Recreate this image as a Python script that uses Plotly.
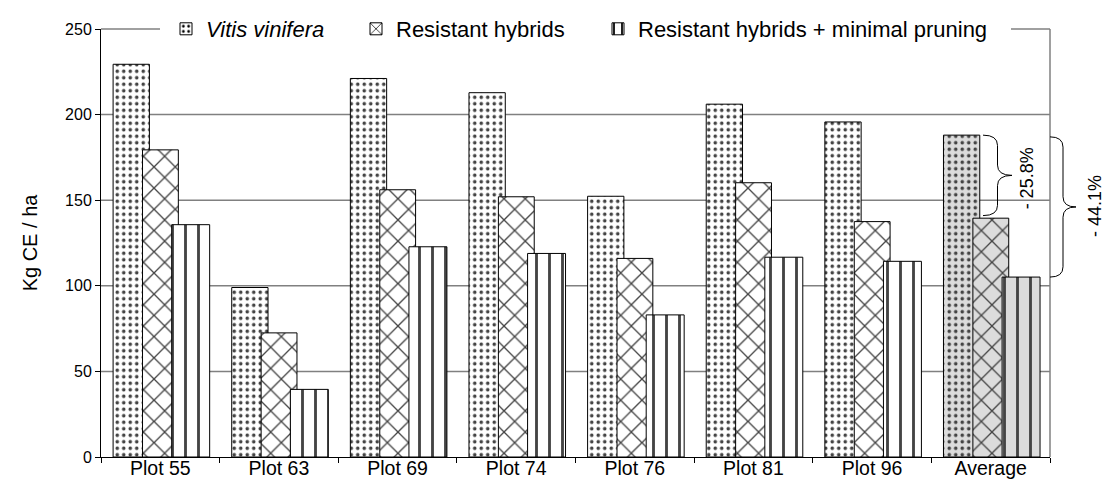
import plotly.graph_objects as go

categories = ["Plot 55", "Plot 63", "Plot 69", "Plot 74", "Plot 76", "Plot 81", "Plot 96", "Average"]
vinifera = [229.4, 99.0, 221.1, 212.8, 152.3, 206.1, 195.7, 188.0]
hybrids = [179.4, 72.5, 156.1, 152.0, 116.0, 160.2, 137.5, 139.5]
hybrids_mp = [135.7, 39.5, 122.8, 118.9, 83.0, 116.7, 114.3, 105.1]
series_names = ["<i>Vitis vinifera</i>", "Resistant hybrids", "Resistant hybrids + minimal pruning"]
y_ticks = [0, 50, 100, 150, 200, 250]
grid_vals = [50, 100, 150, 200]
pct_labels = ["- 25.8%", "- 44.1%"]

YMAX = 250.0
FONT = "Liberation Sans, Arial, sans-serif"

# page has an 8px body margin: figure starts at x=8, y=8
OFF = 8
FIG_W, FIG_H = 1110 - OFF, 490 - 2 * OFF
PL, PR, PT, PB = 101, 1050, 29, 457.5          # plot area in page pixels
L, R, T, B = PL - OFF, (OFF + FIG_W) - PR, PT - OFF, (OFF + FIG_H) - PB
W = PR - PL

def px_to_paper(px):
    return (px - PL) / W

bg = ["white"] * 7 + ["#dcdcdc"]

fig = go.Figure()
specs = [
    (vinifera, ".", 6.5, 0.24, -0.398, 0.306, "legend"),
    (hybrids, "x", 15, 0.17, -0.150, 0.302, "legend2"),
    (hybrids_mp, "|", 13, 0.22, 0.096, 0.320, "legend3"),
]
for (vals, shp, sz, sol, off, w, lg), nm in zip(specs, series_names):
    fig.add_trace(go.Bar(
        x=categories, y=vals, name=nm, offset=off, width=w, legend=lg,
        marker=dict(color=bg, line=dict(color="black", width=1),
                    pattern=dict(shape=shp, size=sz, solidity=sol, fgcolor="black",
                                 fgopacity=1, fillmode="overlay")),
    ))

shapes = []
for g in grid_vals:
    shapes.append(dict(type="line", xref="paper", yref="paper", x0=0, x1=1,
                       y0=g / YMAX, y1=g / YMAX, line=dict(color="#808080", width=1.5),
                       layer="below"))
shapes.append(dict(type="line", xref="paper", yref="paper", x0=1, x1=1, y0=0, y1=1,
                   line=dict(color="#808080", width=1.5), layer="below"))
shapes.append(dict(type="line", xref="paper", yref="paper", x0=0, x1=px_to_paper(160),
                   y0=1, y1=1, line=dict(color="#808080", width=1.5)))
shapes.append(dict(type="line", xref="paper", yref="paper", x0=px_to_paper(1011), x1=1,
                   y0=1, y1=1, line=dict(color="#808080", width=1.5)))

def brace(x0, x1, ytop, ybot, r):
    xm = (x0 + x1) / 2
    ym = (ytop + ybot) / 2
    return (f"M{x0},{ytop} Q{xm},{ytop} {xm},{ytop - r} L{xm},{ym + r} "
            f"Q{xm},{ym} {x1},{ym} Q{xm},{ym} {xm},{ym - r} L{xm},{ybot + r} "
            f"Q{xm},{ybot} {x0},{ybot}")

avg1, avg2, avg3 = vinifera[-1], hybrids[-1], hybrids_mp[-1]
r = 6 / YMAX
b1 = brace(px_to_paper(983), px_to_paper(1012), avg1 / YMAX, (avg2 + 1.5) / YMAX, r)
b2 = brace(px_to_paper(1050), px_to_paper(1076), (avg1 - 1) / YMAX, avg3 / YMAX, r)
for p in (b1, b2):
    shapes.append(dict(type="path", xref="paper", yref="paper", path=p,
                       line=dict(color="black", width=1)))

annotations = [
    dict(xref="paper", yref="paper", x=px_to_paper(1027), y=((avg1 + avg2) / 2 - 1) / YMAX,
         text=pct_labels[0], textangle=-90, showarrow=False, xanchor="center", yanchor="middle",
         font=dict(size=18, color="black", family=FONT)),
    dict(xref="paper", yref="paper", x=px_to_paper(1095), y=((avg1 + avg3) / 2) / YMAX,
         text=pct_labels[1], textangle=-90, showarrow=False, xanchor="center", yanchor="middle",
         font=dict(size=18, color="black", family=FONT)),
]

def leg(text_px):
    return dict(orientation="h", x=px_to_paper(text_px - 42), xanchor="left", y=1,
                yanchor="middle", bgcolor="white", borderwidth=0,
                font=dict(size=22, color="black", family=FONT))

fig.update_layout(
    width=FIG_W, height=FIG_H,
    margin=dict(l=L, r=R, t=T, b=B, autoexpand=False),
    paper_bgcolor="white", plot_bgcolor="white",
    barmode="overlay",
    font=dict(family=FONT, color="black"),
    showlegend=True,
    legend=leg(208), legend2=leg(398), legend3=leg(640),
    shapes=shapes, annotations=annotations,
    xaxis=dict(showline=True, linecolor="black", linewidth=1, ticks="outside",
               tickson="boundaries", ticklen=5, tickcolor="black", showgrid=False,
               automargin=False, ticklabelstandoff=-6,
               tickfont=dict(size=19.5, family=FONT, color="black")),
    yaxis=dict(range=[0, YMAX], tickvals=y_ticks, showline=True, linecolor="black",
               linewidth=1, ticks="outside", ticklen=5, tickcolor="black", showgrid=False,
               zeroline=False, automargin=False,
               tickfont=dict(size=16, family=FONT, color="black"),
               title=dict(text="Kg CE / ha", font=dict(size=20, family=FONT, color="black"),
                          standoff=22)),
)

fig.write_html("out.html")
